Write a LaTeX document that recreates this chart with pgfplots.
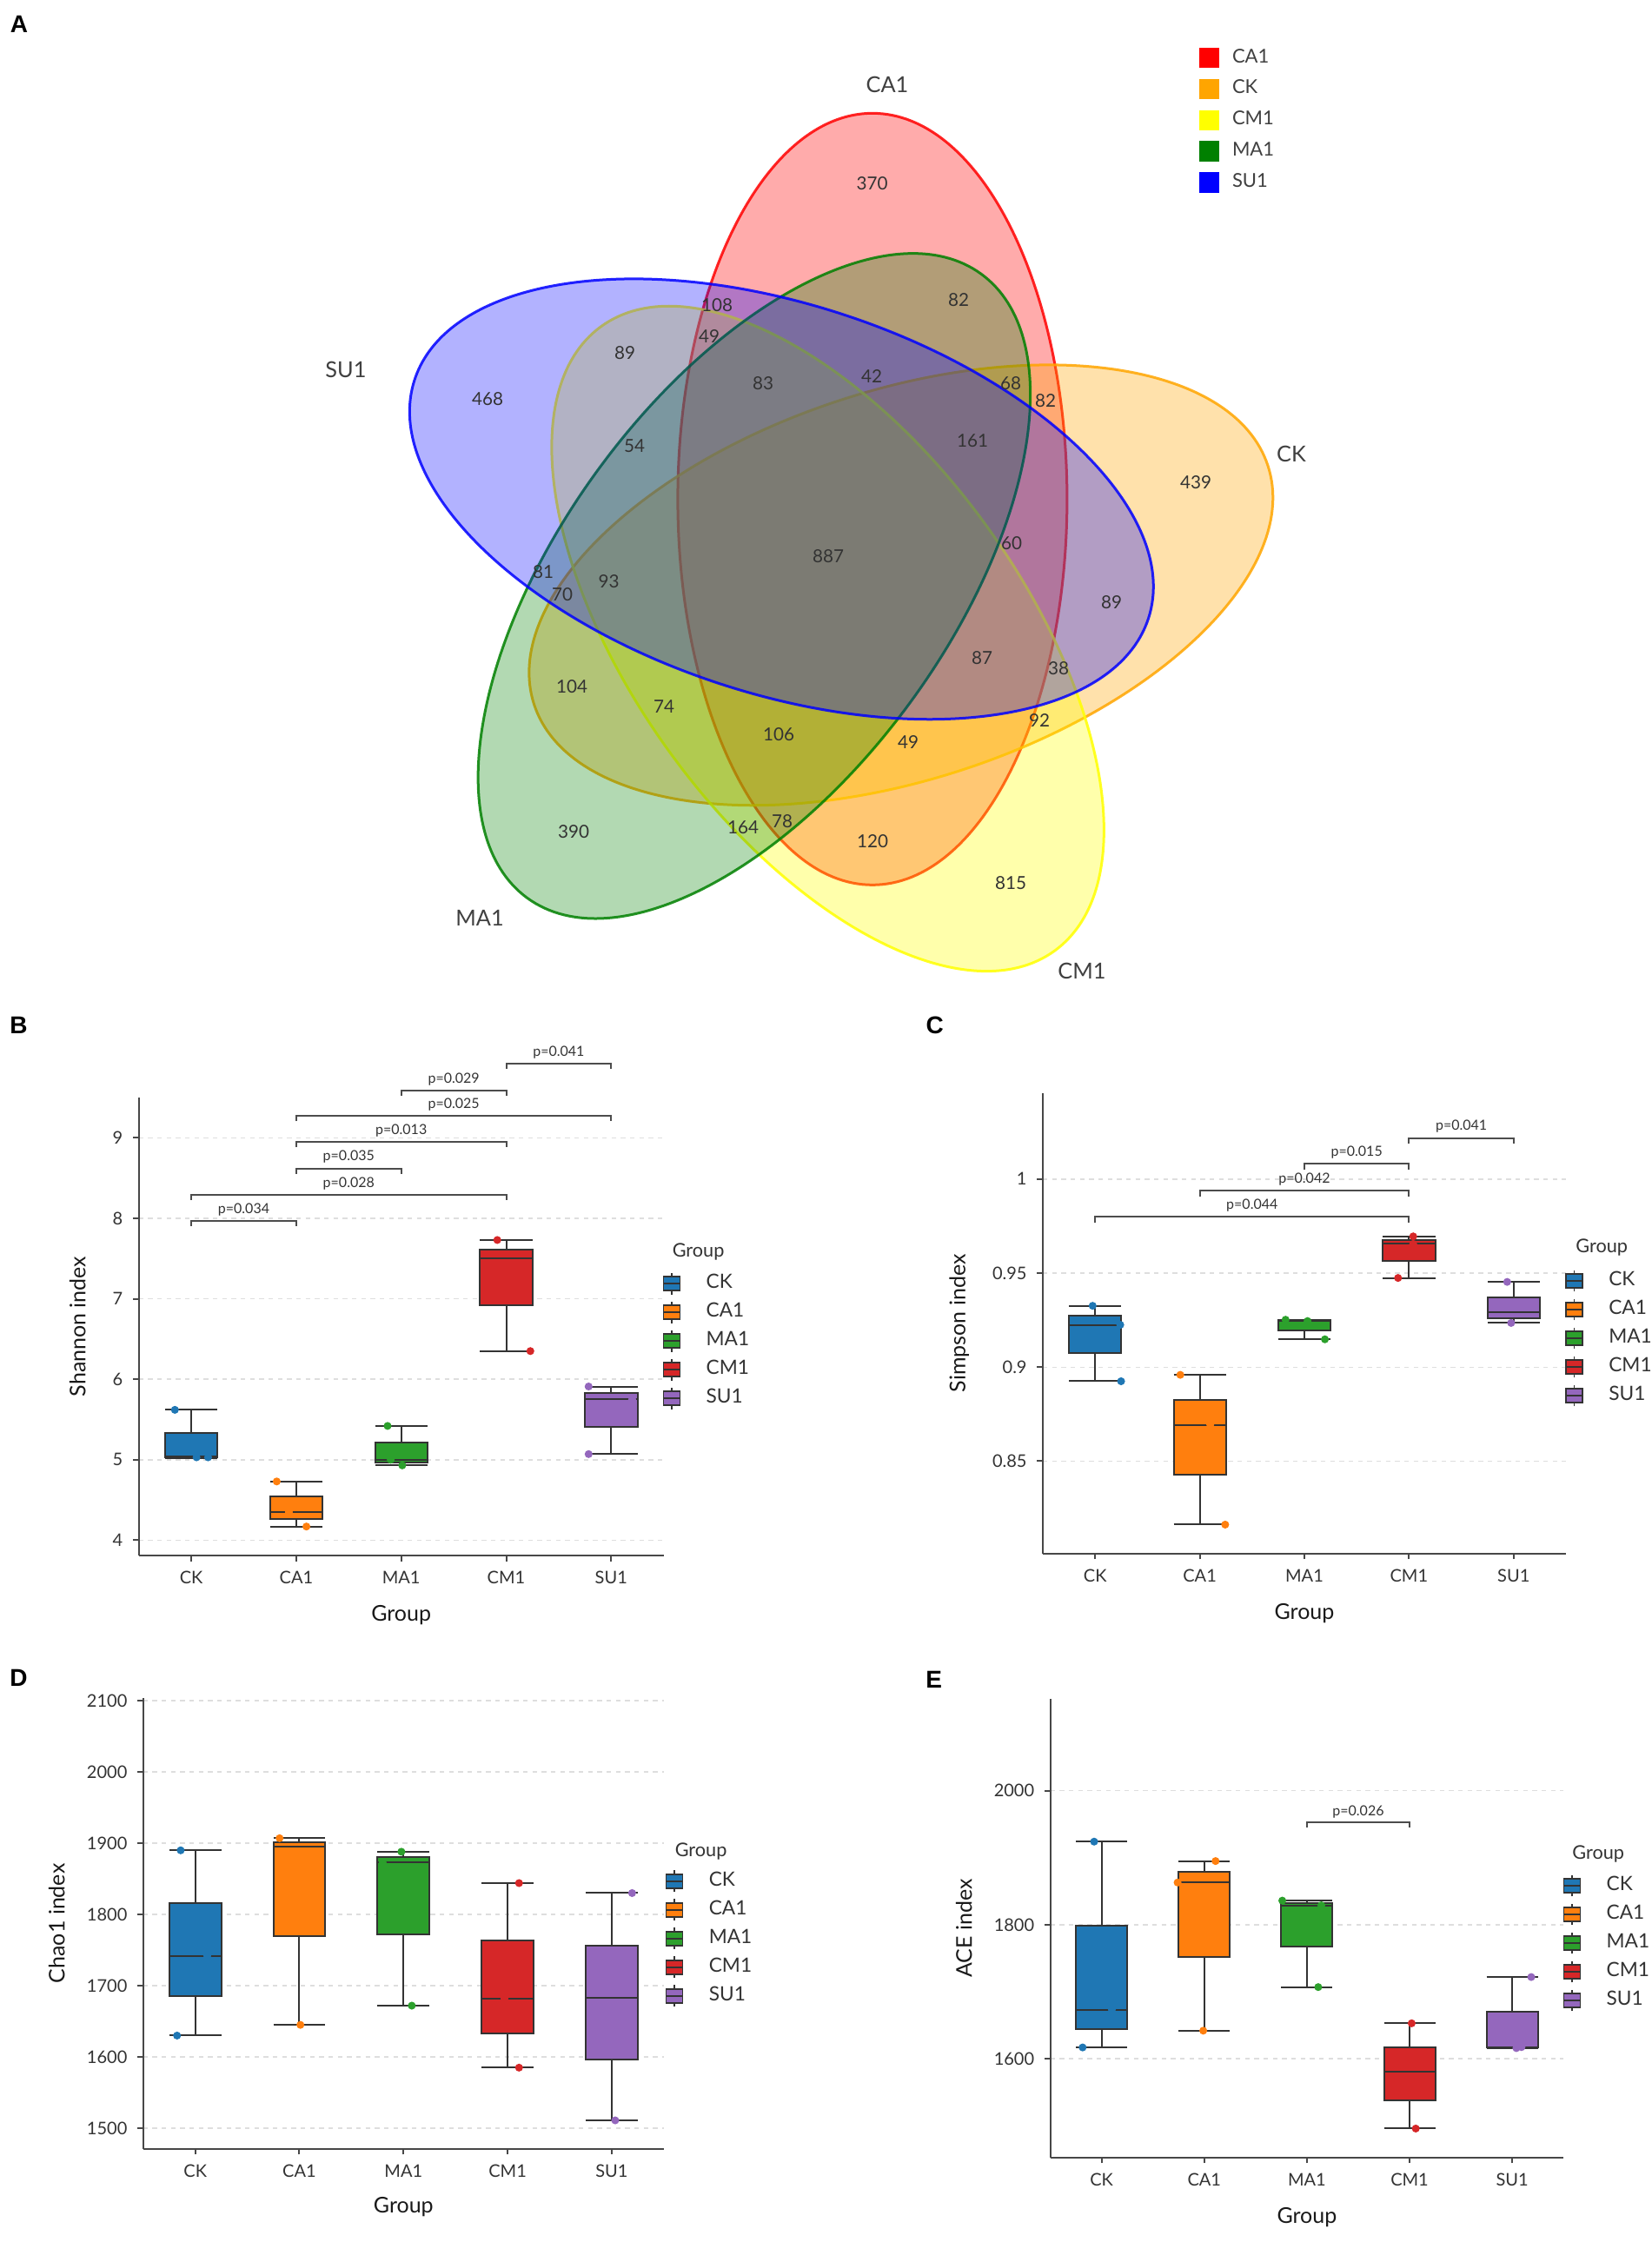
\documentclass[border=0pt]{standalone}
\usepackage{pgfplots}
\pgfplotsset{compat=1.18}
\usepackage{pgfplotstable}
\usepackage{fontspec}
\setmainfont{Lato}
\newfontfamily\letterfont{Liberation Sans}

\definecolor{ckc}{HTML}{1F77B4}
\definecolor{cac}{HTML}{FF7F0E}
\definecolor{mac}{HTML}{2CA02C}
\definecolor{cmc}{HTML}{D62728}
\definecolor{suc}{HTML}{9467BD}
\definecolor{vred}{RGB}{255,0,0}
\definecolor{vorange}{RGB}{255,165,0}
\definecolor{vyellow}{RGB}{255,255,0}
\definecolor{vgreen}{RGB}{0,128,0}
\definecolor{vblue}{RGB}{0,0,255}

\newcommand\tickfont{\fontsize{6}{7}\selectfont}
\newcommand\labfont{\fontsize{7.5}{9}\selectfont}
\newcommand\pfont{\fontsize{4.8}{5.5}\selectfont}
\newcommand\legfont{\fontsize{6.8}{8}\selectfont}
\newcommand\legtfont{\fontsize{6.5}{8}\selectfont}
\newcommand\vnumfont{\fontsize{6.2}{7}\selectfont}
\newcommand\vlabfont{\fontsize{7.6}{9}\selectfont}
\newcommand\vlegfont{\fontsize{6.6}{8}\selectfont}
\newcommand\letfont{\letterfont\bfseries\fontsize{8.4}{10}\selectfont}

\pgfplotstableread{
x y lab
1003.5 211 370
1103 345 82
825 351 108
816 387 49
719 406 89
561 459 468
878 441 83
1003 433 42
1163 441 68
1203 461 82
1119 507 161
730 513 54
1376 555 439
1164 625 60
953 640 887
625 658 81
700.6 669 93
647 684 70
1279 693 89
1130 757 87
1218 769 38
658 790 104
764 813 74
896 845 106
1196 829 92
1045 854 49
660 957 390
855 952 164
900 945 78
1004 968 120
1163 1016 815
}\vennnums

\pgfplotstableread{
x y lab
1021 97 CA1
398 425 SU1
1486 522 CK
552 1056 MA1
1245 1117 CM1
}\vennlabs

\pgfplotsset{
  boxaxis/.style={
    scale only axis,
    disabledatascaling,
    xmin=-0.5, xmax=4.5,
    xtick={0,1,2,3,4}, xticklabels={CK,CA1,MA1,CM1,SU1},
    axis x line*=bottom, axis y line*=left,
    axis line style={black!72, line width=0.6pt},
    tick style={black!72, line width=0.6pt},
    major tick length=2pt, tick align=outside,
    ymajorgrids, major grid style={black!13, dash pattern=on 1.6pt off 1.6pt, line width=0.45pt},
    ticklabel style={font=\tickfont, text=black!80},
    /pgf/number format/assume math mode=true,
    /pgf/number format/1000 sep={},
    scaled y ticks=false,
    xlabel={Group}, label style={font=\labfont, text=black!90},
    clip=false,
    unbounded coords=jump,
    legend style={draw=none, fill=none, inner sep=0pt, font=\legfont, text=black!80,
      row sep=0pt, column sep=8.85pt, nodes={inner sep=0pt, minimum height=9.9pt}, anchor=north west},
    legend cell align=left,
  },
  bxf/.style={forget plot, fill=#1, draw=black!80, line width=0.6pt, mark=none},
  wsk/.style={forget plot, black!80, line width=0.6pt, mark=none},
  pts/.style={forget plot, only marks, mark=*, mark size=1.15pt, mark options={draw=#1, fill=#1}},
  brk/.style={forget plot, black!70, line width=0.6pt, mark=none},
  boxkey/.style={legend image code/.code={%
     \draw[black!80, line width=0.5pt] (0pt,-3.7pt) -- (0pt,3.7pt);
     \filldraw[fill=#1, draw=black!80, line width=0.5pt] (-2.85pt,-2.4pt) rectangle (2.85pt,2.4pt);
     \draw[black!80, line width=0.5pt] (-2.85pt,0pt) -- (2.85pt,0pt);}},
  vennkey/.style={legend image code/.code={\fill[#1] (0pt,-3.3pt) rectangle (6.6pt,3.3pt);}},
}

\begin{document}
\begin{tikzpicture}
\useasboundingbox (0,0) rectangle (570.3pt,-774pt);

% ---------------- Panel A: Venn diagram ----------------
\begin{axis}[at={(0pt,0pt)}, anchor=north west, scale only axis, width=570.3pt, height=345pt,
  xmin=0, xmax=1901, ymin=0, ymax=1150, y dir=reverse, hide axis, clip=false,
  legend style={at={(axis cs:1379,48)}, anchor=north west, draw=none, fill=none, inner sep=0pt,
     row sep=0pt, column sep=4.5pt, nodes={inner sep=0pt, minimum height=10.75pt}, font=\vlegfont, text=black!75},
  legend cell align=left]
\filldraw[vred, fill opacity=0.33, draw opacity=0.85, line width=0.9pt, rotate around={90:(axis cs:1003.9,574.3)}] (axis cs:1003.9,574.3) ellipse [x radius=133.2pt, y radius=67.2pt];
\filldraw[vorange, fill opacity=0.33, draw opacity=0.85, line width=0.9pt, rotate around={18:(axis cs:1036.8,673.3)}] (axis cs:1036.8,673.3) ellipse [x radius=133.2pt, y radius=67.2pt];
\filldraw[vyellow, fill opacity=0.33, draw opacity=0.85, line width=0.9pt, rotate around={-54:(axis cs:952.6,734.9)}] (axis cs:952.6,734.9) ellipse [x radius=133.2pt, y radius=67.2pt];
\filldraw[vgreen, fill opacity=0.30, draw opacity=0.85, line width=0.9pt, rotate around={54:(axis cs:867.9,674.3)}] (axis cs:867.9,674.3) ellipse [x radius=133.2pt, y radius=67.2pt];
\filldraw[vblue, fill opacity=0.30, draw opacity=0.85, line width=0.9pt, rotate around={-18:(axis cs:899.3,574.3)}] (axis cs:899.3,574.3) ellipse [x radius=133.2pt, y radius=67.2pt];
\addplot[forget plot, only marks, mark=none, nodes near coords, point meta=explicit symbolic,
  every node near coord/.append style={anchor=center, font=\vnumfont, text=black!80}]
  table[x=x, y=y, meta=lab] {\vennnums};
\addplot[forget plot, only marks, mark=none, nodes near coords, point meta=explicit symbolic,
  every node near coord/.append style={anchor=center, font=\vlabfont, text=black!75}]
  table[x=x, y=y, meta=lab] {\vennlabs};
\addlegendimage{vennkey=vred}\addlegendentry{CA1}
\addlegendimage{vennkey=vorange}\addlegendentry{CK}
\addlegendimage{vennkey=vyellow}\addlegendentry{CM1}
\addlegendimage{vennkey=vgreen}\addlegendentry{MA1}
\addlegendimage{vennkey=vblue}\addlegendentry{SU1}
\end{axis}

% ---------------- Panel B: Shannon ----------------
\begin{axis}[boxaxis, at={(47.91pt,-537pt)}, anchor=south west, width=181.2pt, height=158.1pt,
  ymin=3.81, ymax=9.5, ytick={4,5,6,7,8,9},
  ylabel={Shannon index},
  ylabel style={at={(axis description cs:-0.1166,0.5)}, anchor=center},
  xlabel style={at={(axis description cs:0.5,-0.131)}, anchor=center},
  legend style={at={(axis description cs:0.9969,0.6262)}}]
% CK
\addplot[wsk] coordinates {(0,5.02) (0,5.03) (nan,nan) (0,5.33) (0,5.62) (nan,nan) (-0.25,5.02) (0.25,5.02) (nan,nan) (-0.25,5.62) (0.25,5.62)};
\addplot[bxf=ckc] coordinates {(-0.25,5.03) (0.25,5.03) (0.25,5.33) (-0.25,5.33)} -- cycle;
\addplot[wsk] coordinates {(-0.25,5.04) (0.25,5.04)};
% CA1
\addplot[wsk] coordinates {(1,4.17) (1,4.26) (nan,nan) (1,4.54) (1,4.73) (nan,nan) (0.75,4.17) (1.25,4.17) (nan,nan) (0.75,4.73) (1.25,4.73)};
\addplot[bxf=cac] coordinates {(0.75,4.26) (1.25,4.26) (1.25,4.54) (0.75,4.54)} -- cycle;
\addplot[wsk] coordinates {(0.75,4.35) (1.25,4.35)};
% MA1
\addplot[wsk] coordinates {(2,4.93) (2,4.965) (nan,nan) (2,5.21) (2,5.42) (nan,nan) (1.75,4.93) (2.25,4.93) (nan,nan) (1.75,5.42) (2.25,5.42)};
\addplot[bxf=mac] coordinates {(1.75,4.965) (2.25,4.965) (2.25,5.21) (1.75,5.21)} -- cycle;
\addplot[wsk] coordinates {(1.75,5.00) (2.25,5.00)};
% CM1
\addplot[wsk] coordinates {(3,6.35) (3,6.925) (nan,nan) (3,7.615) (3,7.73) (nan,nan) (2.75,6.35) (3.25,6.35) (nan,nan) (2.75,7.73) (3.25,7.73)};
\addplot[bxf=cmc] coordinates {(2.75,6.925) (3.25,6.925) (3.25,7.615) (2.75,7.615)} -- cycle;
\addplot[wsk] coordinates {(2.75,7.50) (3.25,7.50)};
% SU1
\addplot[wsk] coordinates {(4,5.07) (4,5.41) (nan,nan) (4,5.83) (4,5.91) (nan,nan) (3.75,5.07) (4.25,5.07) (nan,nan) (3.75,5.91) (4.25,5.91)};
\addplot[bxf=suc] coordinates {(3.75,5.41) (4.25,5.41) (4.25,5.83) (3.75,5.83)} -- cycle;
\addplot[wsk] coordinates {(3.75,5.75) (4.25,5.75)};
\addplot[pts=ckc] coordinates {(-0.156,5.62) (0.05,5.03) (0.16,5.03)};
\addplot[pts=cac] coordinates {(0.814,4.73) (1.097,4.17) (0.93,4.35)};
\addplot[pts=mac] coordinates {(1.87,5.42) (2.01,4.93) (1.9,5.00)};
\addplot[pts=cmc] coordinates {(2.915,7.73) (3.23,6.35)};
\addplot[pts=suc] coordinates {(3.785,5.91) (3.785,5.07) (4.2,5.75)};
\addplot[brk] coordinates {(0,7.90) (0,7.965) (1,7.965) (1,7.90)};
\addplot[brk] coordinates {(0,8.23) (0,8.295) (3,8.295) (3,8.23)};
\addplot[brk] coordinates {(1,8.555) (1,8.62) (2,8.62) (2,8.555)};
\addplot[brk] coordinates {(1,8.88) (1,8.945) (3,8.945) (3,8.88)};
\addplot[brk] coordinates {(1,9.205) (1,9.27) (4,9.27) (4,9.205)};
\addplot[brk] coordinates {(2,9.525) (2,9.59) (3,9.59) (3,9.525)};
\addplot[brk] coordinates {(3,9.855) (3,9.92) (4,9.92) (4,9.855)};
\node[font=\pfont, text=black!80, yshift=3.9pt] at (axis cs:0.5,7.965) {p=0.034};
\node[font=\pfont, text=black!80, yshift=3.9pt] at (axis cs:1.5,8.295) {p=0.028};
\node[font=\pfont, text=black!80, yshift=3.9pt] at (axis cs:1.5,8.62) {p=0.035};
\node[font=\pfont, text=black!80, yshift=3.9pt] at (axis cs:2,8.945) {p=0.013};
\node[font=\pfont, text=black!80, yshift=3.9pt] at (axis cs:2.5,9.27) {p=0.025};
\node[font=\pfont, text=black!80, yshift=3.9pt] at (axis cs:2.5,9.59) {p=0.029};
\node[font=\pfont, text=black!80, yshift=3.9pt] at (axis cs:3.5,9.92) {p=0.041};
\node[anchor=west, font=\legtfont, text=black!80] at (axis description cs:0.9972,0.6626) {Group};
\addlegendimage{boxkey=ckc}\addlegendentry{CK}
\addlegendimage{boxkey=cac}\addlegendentry{CA1}
\addlegendimage{boxkey=mac}\addlegendentry{MA1}
\addlegendimage{boxkey=cmc}\addlegendentry{CM1}
\addlegendimage{boxkey=suc}\addlegendentry{SU1}
\end{axis}

% ---------------- Panel C: Simpson ----------------
\begin{axis}[boxaxis, at={(360pt,-536.34pt)}, anchor=south west, width=180.6pt, height=159pt,
  ymin=0.8009, ymax=1.0457, ytick={0.85,0.9,0.95,1},
  ylabel={Simpson index},
  ylabel style={at={(axis description cs:-0.160,0.5)}, anchor=center},
  xlabel style={at={(axis description cs:0.5,-0.130)}, anchor=center},
  legend style={at={(axis description cs:0.9975,0.6242)}}]
% CK
\addplot[wsk] coordinates {(0,0.8925) (0,0.9075) (nan,nan) (0,0.9276) (0,0.9326) (nan,nan) (-0.25,0.8925) (0.25,0.8925) (nan,nan) (-0.25,0.9326) (0.25,0.9326)};
\addplot[bxf=ckc] coordinates {(-0.25,0.9075) (0.25,0.9075) (0.25,0.9276) (-0.25,0.9276)} -- cycle;
\addplot[wsk] coordinates {(-0.25,0.9225) (0.25,0.9225)};
% CA1
\addplot[wsk] coordinates {(1,0.8163) (1,0.8429) (nan,nan) (1,0.8827) (1,0.8959) (nan,nan) (0.75,0.8163) (1.25,0.8163) (nan,nan) (0.75,0.8959) (1.25,0.8959)};
\addplot[bxf=cac] coordinates {(0.75,0.8429) (1.25,0.8429) (1.25,0.8827) (0.75,0.8827)} -- cycle;
\addplot[wsk] coordinates {(0.75,0.8694) (1.25,0.8694)};
% MA1
\addplot[wsk] coordinates {(2,0.9148) (2,0.9197) (nan,nan) (2,0.9249) (2,0.9252) (nan,nan) (1.75,0.9148) (2.25,0.9148) (nan,nan) (1.75,0.9252) (2.25,0.9252)};
\addplot[bxf=mac] coordinates {(1.75,0.9197) (2.25,0.9197) (2.25,0.9249) (1.75,0.9249)} -- cycle;
\addplot[wsk] coordinates {(1.75,0.9245) (2.25,0.9245)};
% CM1
\addplot[wsk] coordinates {(3,0.9474) (3,0.9565) (nan,nan) (3,0.9675) (3,0.9695) (nan,nan) (2.75,0.9474) (3.25,0.9474) (nan,nan) (2.75,0.9695) (3.25,0.9695)};
\addplot[bxf=cmc] coordinates {(2.75,0.9565) (3.25,0.9565) (3.25,0.9675) (2.75,0.9675)} -- cycle;
\addplot[wsk] coordinates {(2.75,0.9655) (3.25,0.9655)};
% SU1
\addplot[wsk] coordinates {(4,0.9235) (4,0.9262) (nan,nan) (4,0.937) (4,0.9453) (nan,nan) (3.75,0.9235) (4.25,0.9235) (nan,nan) (3.75,0.9453) (4.25,0.9453)};
\addplot[bxf=suc] coordinates {(3.75,0.9262) (4.25,0.9262) (4.25,0.937) (3.75,0.937)} -- cycle;
\addplot[wsk] coordinates {(3.75,0.929) (4.25,0.929)};
\addplot[pts=ckc] coordinates {(-0.024,0.9326) (0.248,0.8925) (0.24,0.9225)};
\addplot[pts=cac] coordinates {(0.814,0.8959) (1.243,0.8163) (1.1,0.8694)};
\addplot[pts=mac] coordinates {(1.82,0.9252) (2.03,0.9245) (2.196,0.9148)};
\addplot[pts=cmc] coordinates {(3.04,0.9695) (2.895,0.9474) (3.04,0.9655)};
\addplot[pts=suc] coordinates {(3.938,0.9453) (3.976,0.9235)};
\addplot[brk] coordinates {(0,0.9766) (0,0.9798) (3,0.9798) (3,0.9766)};
\addplot[brk] coordinates {(1,0.9907) (1,0.9939) (3,0.9939) (3,0.9907)};
\addplot[brk] coordinates {(2,1.0048) (2,1.0080) (3,1.0080) (3,1.0048)};
\addplot[brk] coordinates {(3,1.0186) (3,1.0218) (4,1.0218) (4,1.0186)};
\node[font=\pfont, text=black!80, yshift=3.9pt] at (axis cs:1.5,0.9798) {p=0.044};
\node[font=\pfont, text=black!80, yshift=3.9pt] at (axis cs:2,0.9939) {p=0.042};
\node[font=\pfont, text=black!80, yshift=3.9pt] at (axis cs:2.5,1.0080) {p=0.015};
\node[font=\pfont, text=black!80, yshift=3.9pt] at (axis cs:3.5,1.0218) {p=0.041};
\node[anchor=west, font=\legtfont, text=black!80] at (axis description cs:0.9994,0.6638) {Group};
\addlegendimage{boxkey=ckc}\addlegendentry{CK}
\addlegendimage{boxkey=cac}\addlegendentry{CA1}
\addlegendimage{boxkey=mac}\addlegendentry{MA1}
\addlegendimage{boxkey=cmc}\addlegendentry{CM1}
\addlegendimage{boxkey=suc}\addlegendentry{SU1}
\end{axis}

% ---------------- Panel D: Chao1 ----------------
\begin{axis}[boxaxis, at={(49.44pt,-741.84pt)}, anchor=south west, width=179.7pt, height=155.7pt,
  ymin=1471, ymax=2104, ytick={1500,1600,1700,1800,1900,2000,2100},
  ylabel={Chao1 index},
  ylabel style={at={(axis description cs:-0.166,0.5)}, anchor=center},
  xlabel style={at={(axis description cs:0.5,-0.129)}, anchor=center},
  legend style={at={(axis description cs:1.002,0.6268)}}]
% CK
\addplot[wsk] coordinates {(0,1630) (0,1686) (nan,nan) (0,1816) (0,1890) (nan,nan) (-0.25,1630) (0.25,1630) (nan,nan) (-0.25,1890) (0.25,1890)};
\addplot[bxf=ckc] coordinates {(-0.25,1686) (0.25,1686) (0.25,1816) (-0.25,1816)} -- cycle;
\addplot[wsk] coordinates {(-0.25,1742) (0.25,1742)};
% CA1
\addplot[wsk] coordinates {(1,1645) (1,1770) (nan,nan) (1,1901) (1,1907) (nan,nan) (0.75,1645) (1.25,1645) (nan,nan) (0.75,1907) (1.25,1907)};
\addplot[bxf=cac] coordinates {(0.75,1770) (1.25,1770) (1.25,1901) (0.75,1901)} -- cycle;
\addplot[wsk] coordinates {(0.75,1895) (1.25,1895)};
% MA1
\addplot[wsk] coordinates {(2,1672) (2,1772.5) (nan,nan) (2,1880.5) (2,1888) (nan,nan) (1.75,1672) (2.25,1672) (nan,nan) (1.75,1888) (2.25,1888)};
\addplot[bxf=mac] coordinates {(1.75,1772.5) (2.25,1772.5) (2.25,1880.5) (1.75,1880.5)} -- cycle;
\addplot[wsk] coordinates {(1.75,1873) (2.25,1873)};
% CM1
\addplot[wsk] coordinates {(3,1585) (3,1633.5) (nan,nan) (3,1763) (3,1844) (nan,nan) (2.75,1585) (3.25,1585) (nan,nan) (2.75,1844) (3.25,1844)};
\addplot[bxf=cmc] coordinates {(2.75,1633.5) (3.25,1633.5) (3.25,1763) (2.75,1763)} -- cycle;
\addplot[wsk] coordinates {(2.75,1682) (3.25,1682)};
% SU1
\addplot[wsk] coordinates {(4,1511) (4,1597) (nan,nan) (4,1756.5) (4,1830) (nan,nan) (3.75,1511) (4.25,1511) (nan,nan) (3.75,1830) (4.25,1830)};
\addplot[bxf=suc] coordinates {(3.75,1597) (4.25,1597) (4.25,1756.5) (3.75,1756.5)} -- cycle;
\addplot[wsk] coordinates {(3.75,1683) (4.25,1683)};
\addplot[pts=ckc] coordinates {(-0.14,1890) (-0.175,1630) (0.115,1742)};
\addplot[pts=cac] coordinates {(0.81,1907) (1.01,1645)};
\addplot[pts=mac] coordinates {(1.98,1888) (2.08,1672) (1.8,1873)};
\addplot[pts=cmc] coordinates {(3.11,1844) (3.11,1585) (2.97,1682)};
\addplot[pts=suc] coordinates {(4.196,1830) (4.034,1511)};
\node[anchor=west, font=\legtfont, text=black!80] at (axis description cs:1.002,0.6605) {Group};
\addlegendimage{boxkey=ckc}\addlegendentry{CK}
\addlegendimage{boxkey=cac}\addlegendentry{CA1}
\addlegendimage{boxkey=mac}\addlegendentry{MA1}
\addlegendimage{boxkey=cmc}\addlegendentry{CM1}
\addlegendimage{boxkey=suc}\addlegendentry{SU1}
\end{axis}

% ---------------- Panel E: ACE ----------------
\begin{axis}[boxaxis, at={(362.58pt,-744.78pt)}, anchor=south west, width=177.2pt, height=158.3pt,
  ymin=1453, ymax=2137, ytick={1600,1800,2000},
  ylabel={ACE index},
  ylabel style={at={(axis description cs:-0.168,0.5)}, anchor=center},
  xlabel style={at={(axis description cs:0.5,-0.131)}, anchor=center},
  legend style={at={(axis description cs:0.9976,0.6251)}}]
% CK
\addplot[wsk] coordinates {(0,1617) (0,1645) (nan,nan) (0,1798.7) (0,1924) (nan,nan) (-0.25,1617) (0.25,1617) (nan,nan) (-0.25,1924) (0.25,1924)};
\addplot[bxf=ckc] coordinates {(-0.25,1645) (0.25,1645) (0.25,1798.7) (-0.25,1798.7)} -- cycle;
\addplot[wsk] coordinates {(-0.25,1673.5) (0.25,1673.5)};
% CA1
\addplot[wsk] coordinates {(1,1642) (1,1752.5) (nan,nan) (1,1879) (1,1895) (nan,nan) (0.75,1642) (1.25,1642) (nan,nan) (0.75,1895) (1.25,1895)};
\addplot[bxf=cac] coordinates {(0.75,1752.5) (1.25,1752.5) (1.25,1879) (0.75,1879)} -- cycle;
\addplot[wsk] coordinates {(0.75,1863) (1.25,1863)};
% MA1
\addplot[wsk] coordinates {(2,1707) (2,1768) (nan,nan) (2,1832.5) (2,1836) (nan,nan) (1.75,1707) (2.25,1707) (nan,nan) (1.75,1836) (2.25,1836)};
\addplot[bxf=mac] coordinates {(1.75,1768) (2.25,1768) (2.25,1832.5) (1.75,1832.5)} -- cycle;
\addplot[wsk] coordinates {(1.75,1829) (2.25,1829)};
% CM1
\addplot[wsk] coordinates {(3,1496) (3,1538.5) (nan,nan) (3,1617) (3,1653) (nan,nan) (2.75,1496) (3.25,1496) (nan,nan) (2.75,1653) (3.25,1653)};
\addplot[bxf=cmc] coordinates {(2.75,1538.5) (3.25,1538.5) (3.25,1617) (2.75,1617)} -- cycle;
\addplot[wsk] coordinates {(2.75,1581) (3.25,1581)};
% SU1
\addplot[wsk] coordinates {(4,1616) (4,1616.7) (nan,nan) (4,1669.7) (4,1722) (nan,nan) (3.75,1616) (4.25,1616) (nan,nan) (3.75,1722) (4.25,1722)};
\addplot[bxf=suc] coordinates {(3.75,1616.7) (4.25,1616.7) (4.25,1669.7) (3.75,1669.7)} -- cycle;
\addplot[wsk] coordinates {(3.75,1617.5) (4.25,1617.5)};
\addplot[pts=ckc] coordinates {(-0.073,1924) (-0.185,1617) (0.1,1673.5)};
\addplot[pts=cac] coordinates {(1.11,1895) (0.99,1642) (0.74,1863)};
\addplot[pts=mac] coordinates {(1.76,1836) (2.14,1829) (2.11,1707)};
\addplot[pts=cmc] coordinates {(3.02,1653) (3.06,1496)};
\addplot[pts=suc] coordinates {(4.185,1722) (4.04,1616) (4.09,1617.5)};
\addplot[brk] coordinates {(2,1945) (2,1953) (3,1953) (3,1945)};
\node[font=\pfont, text=black!80, yshift=3.6pt] at (axis cs:2.5,1953) {p=0.026};
\node[anchor=west, font=\legtfont, text=black!80] at (axis description cs:0.9973,0.6615) {Group};
\addlegendimage{boxkey=ckc}\addlegendentry{CK}
\addlegendimage{boxkey=cac}\addlegendentry{CA1}
\addlegendimage{boxkey=mac}\addlegendentry{MA1}
\addlegendimage{boxkey=cmc}\addlegendentry{CM1}
\addlegendimage{boxkey=suc}\addlegendentry{SU1}
\end{axis}

% panel letters
\node[font=\letfont] at (6.6pt,-8.4pt) {A};
\node[font=\letfont] at (6.42pt,-353.9pt) {B};
\node[font=\letfont] at (322.7pt,-354pt) {C};
\node[font=\letfont] at (6.42pt,-579.4pt) {D};
\node[font=\letfont] at (322.4pt,-579.8pt) {E};
\end{tikzpicture}
\end{document}
